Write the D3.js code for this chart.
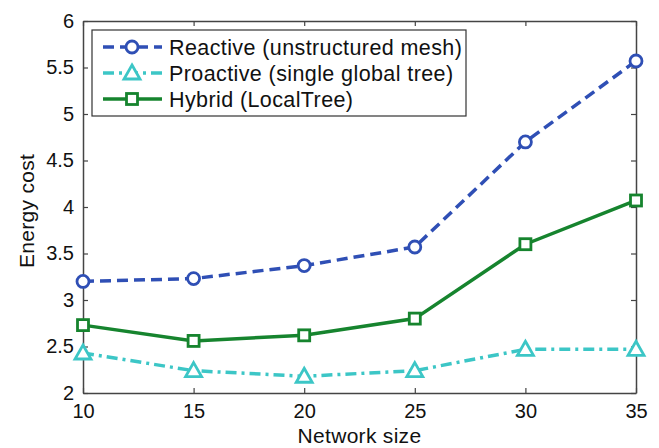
<!DOCTYPE html>
<html>
<head>
<meta charset="UTF-8">
<script src="https://d3js.org/d3.v7.min.js"></script>
<style>
  body { margin: 0; background: #fff; font-family: "Liberation Sans", Arial, sans-serif; }
</style>
</head>
<body>
<div id="chart"></div>
<script>
  // data
  const sizes = [10, 15, 20, 25, 30, 35];
  const reactive = [3.20, 3.23, 3.37, 3.57, 4.70, 5.57];
  const proactive = [2.43, 2.24, 2.18, 2.24, 2.47, 2.47];
  const hybrid = [2.73, 2.56, 2.62, 2.80, 3.60, 4.07];
  const yTicks = [2, 2.5, 3, 3.5, 4, 4.5, 5, 5.5, 6];
  const xTicks = [10, 15, 20, 25, 30, 35];

  const series = [
    {name: "Reactive (unstructured mesh)", values: reactive, color: "#2f4fb5", dash: "11,6", marker: "circle"},
    {name: "Proactive (single global tree)", values: proactive, color: "#3cc6c6", dash: "11,5,3,5", marker: "triangle"},
    {name: "Hybrid (LocalTree)", values: hybrid, color: "#16842e", dash: null, marker: "square"}
  ];

  const W = 659, H = 448;
  const margin = {top: 21, right: 23, bottom: 55, left: 83};
  const width = W - margin.left - margin.right,
        height = H - margin.top - margin.bottom;

  const svg = d3.select("#chart").append("svg")
      .attr("width", W).attr("height", H);
  const g = svg.append("g").attr("transform", `translate(${margin.left},${margin.top})`);

  const x = d3.scaleLinear().domain([10, 35]).range([0, width]);
  const y = d3.scaleLinear().domain([2, 6]).range([height, 0]);

  const axisColor = "#444";
  const tickFont = "20px";
  const labelFont = "21px";

  // axes (ticks pointing in, mirrored on top/right)
  g.append("g").attr("transform", `translate(0,${height})`)
      .call(d3.axisBottom(x).tickValues(xTicks).tickSizeInner(-5).tickSizeOuter(0).tickPadding(11));
  g.append("g")
      .call(d3.axisLeft(y).tickValues(yTicks).tickSizeInner(-5).tickSizeOuter(0).tickPadding(9)
        .tickFormat(d3.format("")));
  g.append("g").call(d3.axisTop(x).tickValues(xTicks).tickSizeInner(-5).tickSizeOuter(0).tickFormat(""));
  g.append("g").attr("transform", `translate(${width},0)`)
      .call(d3.axisRight(y).tickValues(yTicks).tickSizeInner(-5).tickSizeOuter(0).tickFormat(""));

  g.selectAll(".domain").attr("stroke", axisColor).attr("stroke-width", 1.5);
  g.selectAll(".tick line").attr("stroke", axisColor).attr("stroke-width", 1.2);
  g.selectAll(".tick text").attr("fill", "#111").style("font-size", tickFont)
      .style("font-family", "'Liberation Sans', Arial, sans-serif");

  // axis titles
  svg.append("text")
      .attr("x", margin.left + width / 2).attr("y", 443)
      .attr("text-anchor", "middle").style("font-size", labelFont).attr("fill", "#111")
      .style("letter-spacing", "0.3px")
      .text("Network size");
  svg.append("text")
      .attr("transform", `translate(34,${margin.top + height / 2 + 4}) rotate(-90)`)
      .attr("text-anchor", "middle").style("font-size", labelFont).attr("fill", "#111")
      .style("letter-spacing", "0.3px")
      .text("Energy cost");

  function drawMarker(sel, type, color) {
    if (type === "circle") {
      sel.append("circle").attr("r", 6).attr("fill", "#fff")
        .attr("stroke", color).attr("stroke-width", 2.8);
    } else if (type === "triangle") {
      sel.append("path").attr("d", "M0,-8 L8,6 L-8,6 Z").attr("fill", "#fff")
        .attr("stroke", color).attr("stroke-width", 2.8).attr("stroke-linejoin", "miter");
    } else {
      sel.append("rect").attr("x", -5.5).attr("y", -5.5).attr("width", 11).attr("height", 11)
        .attr("fill", "#fff").attr("stroke", color).attr("stroke-width", 2.8);
    }
  }

  const line = d3.line().x(d => x(d[0])).y(d => y(d[1]));

  series.forEach(s => {
    const pts = sizes.map((v, i) => [v, s.values[i]]);
    g.append("path").datum(pts)
      .attr("d", line)
      .attr("fill", "none")
      .attr("stroke", s.color)
      .attr("stroke-width", 3.5)
      .attr("stroke-dasharray", s.dash);
    g.selectAll(null).data(pts).enter().append("g")
      .attr("transform", d => `translate(${x(d[0])},${y(d[1])})`)
      .each(function() { drawMarker(d3.select(this), s.marker, s.color); });
  });

  // legend
  const leg = svg.append("g").attr("transform", "translate(92,30)");
  leg.append("rect").attr("width", 374).attr("height", 86)
    .attr("fill", "#fff").attr("stroke", "#333").attr("stroke-width", 1.2);
  series.forEach((s, i) => {
    const ly = 17 + i * 26;
    const row = leg.append("g").attr("transform", `translate(0,${ly})`);
    row.append("line").attr("x1", 11).attr("x2", 70).attr("y1", 0).attr("y2", 0)
      .attr("stroke", s.color).attr("stroke-width", 3.5).attr("stroke-dasharray", s.dash);
    const m = row.append("g").attr("transform", "translate(40,0)");
    drawMarker(m, s.marker, s.color);
    row.append("text").attr("x", 77).attr("y", 7.5)
      .style("font-size", "21.5px").style("letter-spacing", "0.4px")
      .attr("fill", "#111").text(s.name);
  });
</script>
</body>
</html>
